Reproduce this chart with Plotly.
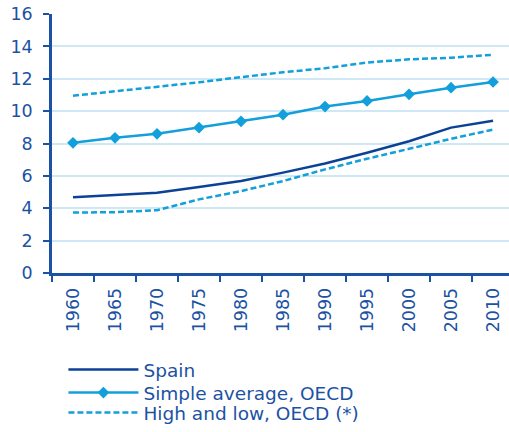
import plotly.graph_objects as go

years = ["1960", "1965", "1970", "1975", "1980", "1985", "1990", "1995", "2000", "2005", "2010"]
spain = [4.68, 4.82, 4.96, 5.31, 5.68, 6.2, 6.77, 7.43, 8.14, 8.98, 9.4]
oecd_avg = [8.04, 8.35, 8.6, 8.98, 9.37, 9.78, 10.28, 10.63, 11.04, 11.45, 11.8]
oecd_high = [10.95, 11.22, 11.49, 11.78, 12.1, 12.4, 12.65, 13.0, 13.2, 13.3, 13.48]
oecd_low = [3.73, 3.76, 3.88, 4.55, 5.06, 5.68, 6.4, 7.06, 7.67, 8.29, 8.86]

NAVY = "#0c4296"
LIGHT = "#129fdc"
AXIS = "#1c52a3"
GRID = "#cfe8f6"
FONT = "DejaVu Sans"

fig = go.Figure()
fig.add_trace(go.Scatter(x=years, y=spain, mode="lines", name="Spain", legend="legend",
                         line=dict(color=NAVY, width=2.5)))
fig.add_trace(go.Scatter(x=years, y=oecd_avg, mode="lines+markers", name="Simple average, OECD",
                         legend="legend2",
                         line=dict(color=LIGHT, width=2.5),
                         marker=dict(symbol="diamond", size=9, color=LIGHT)))
fig.add_trace(go.Scatter(x=years, y=oecd_high, mode="lines", name="High and low, OECD (*)",
                         legend="legend3",
                         line=dict(color=LIGHT, width=2.5, dash="6px,3px"), legendgroup="hl"))
fig.add_trace(go.Scatter(x=years, y=oecd_low, mode="lines", name="High and low, OECD (*)",
                         legend="legend3",
                         line=dict(color=LIGHT, width=2.5, dash="6px,3px"), legendgroup="hl",
                         showlegend=False))

def leg(ypix):
    return dict(x=0.025, y=-(ypix - 274) / 260, xanchor="left", yanchor="middle",
                font=dict(size=18.5, color=AXIS, family=FONT), itemwidth=70,
                bgcolor="rgba(0,0,0,0)")

fig.update_layout(
    width=509, height=432,
    margin=dict(l=52, r=0, t=14, b=158),
    plot_bgcolor="white", paper_bgcolor="white",
    font=dict(family=FONT, color=AXIS, size=17),
    showlegend=True,
    legend=leg(370), legend2=leg(393), legend3=leg(415),
    xaxis=dict(type="category", range=[-0.5, 10.38], tickson="boundaries",
               ticks="outside", ticklen=6, tickwidth=2, tickcolor=AXIS,
               showline=True, linecolor=AXIS, linewidth=2.5, showgrid=False,
               tickangle=-90, ticklabelstandoff=5, tickfont=dict(size=17.5, color=AXIS)),
    yaxis=dict(range=[0, 16], dtick=2, ticks="outside", ticklen=6, tickwidth=2,
               tickcolor=AXIS, showline=True, linecolor=AXIS, linewidth=2.5,
               showgrid=True, gridcolor=GRID, gridwidth=1.5, zeroline=False,
               ticklabelstandoff=7, tickfont=dict(size=17.5, color=AXIS)),
)

fig.write_html("out.html")
